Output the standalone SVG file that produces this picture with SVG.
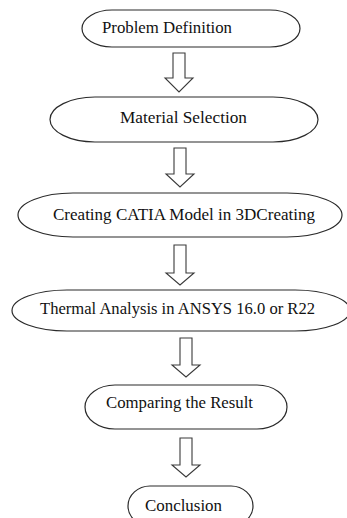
<svg xmlns="http://www.w3.org/2000/svg" width="347" height="518" viewBox="0 0 347 518">
<style>
.n{fill:#fff;stroke:#2a2a2a;stroke-width:1.2}
.a{fill:#fff;stroke:#3a3a3a;stroke-width:1.1;stroke-linejoin:miter}
.t{font-family:'Liberation Serif','DejaVu Serif',serif;font-size:17px;fill:#111}
</style>
<rect width="347" height="518" fill="#fff"/>
<g id="connectors">
<polygon class="a" points="173,53 185,53 185,78 193,78 179,92 165,78 173,78"/>
<polygon class="a" points="174,148 186,148 186,174 194,174 180,187 166,174 174,174"/>
<polygon class="a" points="174,245 186,245 186,273 194,273 180,285 166,273 174,273"/>
<polygon class="a" points="180,338 192,338 192,365 200,365 186,377 172,365 180,365"/>
<polygon class="a" points="180,438 192,438 192,465 200,465 186,477 172,465 180,465"/>
</g>
<g id="n1"><rect class="n" x="82" y="10" width="218" height="37" rx="30" ry="18.5"/><text class="t" font-family="Liberation Serif, serif" x="102" y="33" textLength="130" lengthAdjust="spacingAndGlyphs">Problem Definition</text></g>
<g id="n2"><rect class="n" x="50" y="97" width="268" height="45" rx="45" ry="22.5"/><text class="t" font-family="Liberation Serif, serif" x="120" y="123" textLength="127" lengthAdjust="spacingAndGlyphs">Material Selection</text></g>
<g id="n3"><rect class="n" x="18" y="193" width="324" height="44" rx="55" ry="22"/><text class="t" font-family="Liberation Serif, serif" x="53" y="220" textLength="262" lengthAdjust="spacingAndGlyphs">Creating CATIA Model in 3DCreating</text></g>
<g id="n4"><rect class="n" x="12" y="290" width="338" height="41" rx="55" ry="20.5"/><text class="t" font-family="Liberation Serif, serif" x="40" y="314" textLength="275" lengthAdjust="spacingAndGlyphs">Thermal Analysis in ANSYS 16.0 or R22</text></g>
<g id="n5"><rect class="n" x="85" y="385" width="202" height="44" rx="30" ry="22"/><text class="t" font-family="Liberation Serif, serif" x="106" y="408" textLength="147" lengthAdjust="spacingAndGlyphs">Comparing the Result</text></g>
<g id="n6"><rect class="n" x="128" y="486" width="125" height="40" rx="22" ry="20"/><text class="t" font-family="Liberation Serif, serif" x="145" y="511" textLength="77" lengthAdjust="spacingAndGlyphs">Conclusion</text></g>
</svg>
